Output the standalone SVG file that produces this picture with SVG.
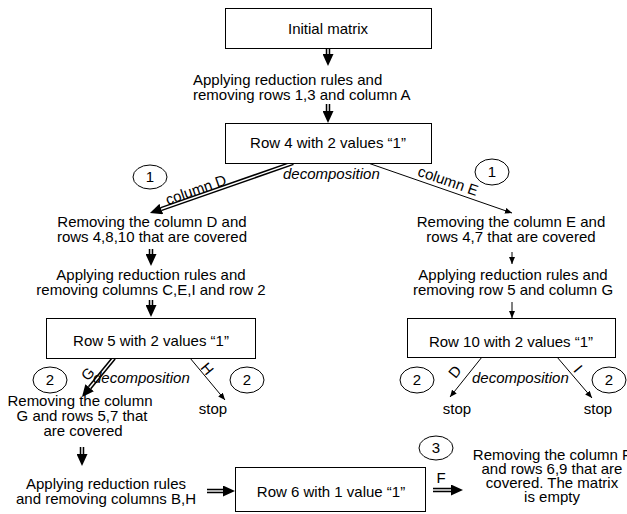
<svg xmlns="http://www.w3.org/2000/svg" width="627" height="514" viewBox="0 0 627 514">
  <style>
    text { font-family: "Liberation Sans", Arial, sans-serif; font-size: 15px; fill: #000; }
    .c { text-anchor: middle; }
    .it { font-style: italic; }
    .box { fill: #fff; stroke: #000; stroke-width: 1; }
    .tag { fill: none; stroke: #000; stroke-width: 1; }
    .dbl { stroke: #000; stroke-width: 4.5; fill: none; marker-end: url(#headBig); }
    .gap { stroke: #fff; stroke-width: 1.4; fill: none; }
    .thin { stroke: #000; stroke-width: 1; fill: none; marker-end: url(#headSmall); }
  </style>
  <defs>
    <!-- filled head placed after the end of a double-shaft arrow -->
    <marker id="headBig" viewBox="0 0 12 11" refX="0" refY="5.5" markerWidth="12" markerHeight="11" markerUnits="userSpaceOnUse" orient="auto">
      <path d="M0,0 L12,5.5 L0,11 z" fill="#000"/>
    </marker>
    <!-- small head at the tip of a thin arrow -->
    <marker id="headSmall" viewBox="0 0 7 6" refX="7" refY="3" markerWidth="7" markerHeight="6" markerUnits="userSpaceOnUse" orient="auto">
      <path d="M0,0 L7,3 L0,6 z" fill="#000"/>
    </marker>
  </defs>

  <!-- connectors -->
  <g id="connectors">
    <!-- double-shaft arrows: black stroke with a white core -->
    <line class="dbl" x1="328" y1="48" x2="328" y2="54"/>
    <line class="gap" x1="328" y1="48" x2="328" y2="54"/>
    <line class="dbl" x1="328" y1="104" x2="328" y2="111"/>
    <line class="gap" x1="328" y1="104" x2="328" y2="111"/>
    <line class="dbl" x1="293" y1="163" x2="161.3" y2="209"/>
    <line class="gap" x1="293" y1="163" x2="161.3" y2="209"/>
    <line class="dbl" x1="151" y1="249" x2="151" y2="254"/>
    <line class="gap" x1="151" y1="249" x2="151" y2="254"/>
    <line class="dbl" x1="151" y1="300" x2="151" y2="305"/>
    <line class="gap" x1="151" y1="300" x2="151" y2="305"/>
    <line class="dbl" x1="114" y1="358" x2="89.6" y2="387.7"/>
    <line class="gap" x1="114" y1="358" x2="89.6" y2="387.7"/>
    <line class="dbl" x1="82" y1="447" x2="82" y2="454"/>
    <line class="gap" x1="82" y1="447" x2="82" y2="454"/>
    <line class="dbl" x1="207" y1="491" x2="223" y2="491"/>
    <line class="gap" x1="207" y1="491" x2="223" y2="491"/>
    <line class="dbl" x1="433" y1="490" x2="451" y2="490"/>
    <line class="gap" x1="433" y1="490" x2="451" y2="490"/>

    <!-- thin arrows -->
    <line class="thin" x1="368" y1="163" x2="512" y2="213"/>
    <line class="thin" x1="512" y1="252" x2="512" y2="264"/>
    <line class="thin" x1="512" y1="302" x2="512" y2="318"/>
    <line class="thin" x1="190" y1="358" x2="225" y2="400"/>
    <line class="thin" x1="482" y1="357" x2="450" y2="397"/>
    <line class="thin" x1="557" y1="357" x2="592" y2="398"/>

    <!-- branch labels -->
    <text class="c" transform="translate(196,190) rotate(-19.3)" x="0" y="5">column D</text>
    <text class="c" transform="translate(448,181) rotate(19.1)" x="0" y="5">column E</text>
    <text class="it" x="283" y="179">decomposition</text>
    <text class="c" transform="translate(88,374) rotate(-50)" x="0" y="5">G</text>
    <text class="c" transform="translate(207,369) rotate(50)" x="0" y="5">H</text>
    <text class="it" x="93" y="383">decomposition</text>
    <text class="c" transform="translate(455,372) rotate(-51)" x="0" y="5">D</text>
    <text class="c" transform="translate(578,369) rotate(50)" x="0" y="5">I</text>
    <text class="it" x="472" y="383">decomposition</text>
    <text class="c" x="441" y="483">F</text>
  </g>

  <!-- step markers -->
  <g id="tag-1-left"><ellipse class="tag" cx="150" cy="177" rx="17" ry="12"/><text class="c" x="150" y="182">1</text></g>
  <g id="tag-1-right"><ellipse class="tag" cx="492" cy="172" rx="17" ry="13"/><text class="c" x="492" y="177">1</text></g>
  <g id="tag-2-a"><ellipse class="tag" cx="50" cy="380" rx="17" ry="13"/><text class="c" x="50" y="385">2</text></g>
  <g id="tag-2-b"><ellipse class="tag" cx="247" cy="380" rx="17" ry="13"/><text class="c" x="247" y="385">2</text></g>
  <g id="tag-2-c"><ellipse class="tag" cx="417" cy="380" rx="17" ry="13"/><text class="c" x="417" y="385">2</text></g>
  <g id="tag-2-d"><ellipse class="tag" cx="609" cy="380" rx="17" ry="13"/><text class="c" x="609" y="385">2</text></g>
  <g id="tag-3"><ellipse class="tag" cx="436" cy="448" rx="17" ry="12"/><text class="c" x="436" y="453">3</text></g>

  <!-- nodes -->
  <g id="initial-matrix">
    <rect class="box" x="225.5" y="8.5" width="206" height="40"/>
    <text class="c" x="328" y="34">Initial matrix</text>
  </g>
  <g id="reduce-1">
    <text x="193" y="85">Applying reduction rules and</text>
    <text x="193" y="100">removing rows 1,3 and column A</text>
  </g>
  <g id="row4">
    <rect class="box" x="225.5" y="123.5" width="206" height="40"/>
    <text class="c" x="328" y="148">Row 4 with 2 values “1”</text>
  </g>
  <g id="remove-D">
    <text class="c" x="152" y="227">Removing the column D and</text>
    <text class="c" x="152" y="242">rows 4,8,10 that are covered</text>
  </g>
  <g id="reduce-2">
    <text class="c" x="151" y="280">Applying reduction rules and</text>
    <text class="c" x="151" y="295">removing columns C,E,I and row 2</text>
  </g>
  <g id="remove-E">
    <text class="c" x="511" y="227">Removing the column E and</text>
    <text class="c" x="511" y="242">rows 4,7 that are covered</text>
  </g>
  <g id="reduce-3">
    <text class="c" x="513" y="280">Applying reduction rules and</text>
    <text class="c" x="513" y="295">removing row 5 and column G</text>
  </g>
  <g id="row5">
    <rect class="box" x="46.5" y="318.5" width="209" height="40"/>
    <text class="c" x="151" y="346">Row 5 with 2 values “1”</text>
  </g>
  <g id="row10">
    <rect class="box" x="407.5" y="318.5" width="208" height="39"/>
    <text class="c" x="511" y="347">Row 10 with 2 values “1”</text>
  </g>
  <g id="stop-H"><text class="c" x="213" y="414">stop</text></g>
  <g id="stop-D"><text class="c" x="457" y="414">stop</text></g>
  <g id="stop-I"><text class="c" x="598" y="414">stop</text></g>
  <g id="remove-G">
    <text class="c" x="80" y="406">Removing the column</text>
    <text class="c" x="82" y="421">G and rows 5,7 that</text>
    <text class="c" x="83" y="436">are covered</text>
  </g>
  <g id="reduce-4">
    <text class="c" x="106" y="489">Applying reduction rules</text>
    <text class="c" x="106" y="504">and removing columns B,H</text>
  </g>
  <g id="row6">
    <rect class="box" x="235.5" y="467.5" width="190" height="44"/>
    <text class="c" x="331" y="497">Row 6 with 1 value “1”</text>
  </g>
  <g id="remove-F">
    <text class="c" x="552" y="460">Removing the column F</text>
    <text class="c" x="552" y="474">and rows 6,9 that are</text>
    <text class="c" x="552" y="488">covered. The matrix</text>
    <text class="c" x="552" y="502">is empty</text>
  </g>
</svg>
